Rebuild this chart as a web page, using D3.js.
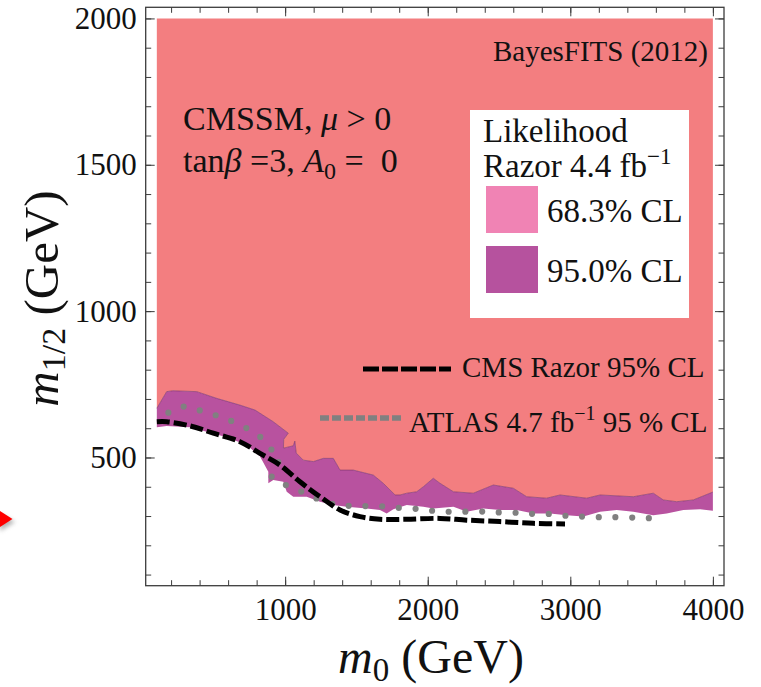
<!DOCTYPE html>
<html>
<head>
<meta charset="utf-8">
<script src="https://cdn.jsdelivr.net/npm/d3@7"></script>
<style>
  body { margin: 0; background: #fff; }
  svg { display: block; }
  text { font-family: "Liberation Serif", "Times New Roman", serif; fill: #111; }
</style>
</head>
<body>
<svg id="chart" width="761" height="687"></svg>
<script>
// CMSSM (m0, m1/2) plane, tan(beta)=3, A0=0: Razor 4.4/fb likelihood regions
// Each boundary is a list of [m0, m1/2] points in GeV.

// lower edge of the 68.3% region (upper edge of the 95.0% band)
const upper68 = [
  [100,668],[169,725],[213,728],[380,725],[520,702],[683,679],[789,662],[917,622],
  [1022,583],[990,562],[988,532],[1057,540],[1068,556],[1078,515],[1127,491],[1198,486],
  [1268,497],[1338,497],[1385,457],[1478,457],[1618,440],[1688,412],[1771,372],[1806,372],
  [1853,378],[1923,383],[1969,400],[2039,429],[2086,412],[2180,383],[2320,378],[2460,406],
  [2600,395],[2694,366],[2834,361],[2928,372],[3115,361],[3209,372],[3442,366],[3582,378],
  [3652,355],[3746,349],[3863,355],[4000,382]
];

// lower edge of the 95.0% region
const lower95 = [
  [100,603],[169,608],[333,603],[450,588],[590,569],[730,543],[824,503],[882,451],
  [882,412],[917,423],[987,417],[1011,383],[1057,366],[1151,366],[1245,349],[1338,338],
  [1432,332],[1572,326],[1665,321],[1712,309],[1759,323],[1853,338],[1969,332],[2039,326],
  [2180,332],[2273,315],[2390,326],[2507,321],[2624,321],[2741,309],[2858,309],[2975,303],
  [3091,298],[3209,315],[3326,321],[3442,315],[3582,303],[3676,309],[3793,321],[3910,323],
  [4000,318]
];

// CMS Razor 95% CL exclusion limit
const cmsRazor = [
  [100,622],[169,622],[333,608],[496,583],[683,554],[824,514],[964,474],[1104,417],
  [1245,366],[1385,321],[1525,298],[1665,289],[1853,289],[2086,292],[2273,286],[2507,281],
  [2741,275],[2963,273]
];

// ATLAS 4.7/fb 95% CL exclusion limit
const atlas = [
  [181,653],[251,671],[333,673],[426,656],[508,645],[590,634],[648,617],[730,600],
  [789,585],[847,560],[906,526],[964,497],[917,463],[906,434],[976,412],[1046,398],
  [1116,383],[1186,368],[1256,352],[1330,342],[1410,336],[1491,334],[1607,334],[1724,332],
  [1841,326],[1969,323],[2074,315],[2191,315],[2308,315],[2432,315],[2535,311],[2659,311],
  [2752,307],[2870,307],[2986,300],[3091,298],[3220,296],[3337,296],[3477,294],[3594,292]
];

// scanned parameter ranges
const m0Range = [100, 4000];
const m12Range = [100, 2000];

// axis ticks
const xMajorTicks = [1000, 2000, 3000, 4000];
const xMinorTicks = d3.range(200, 4001, 200);
const yMajorTicks = [500, 1000, 1500, 2000];
const yMinorTicks = d3.range(100, 2001, 100);

const colors = {
  cl68: "#f37e80",
  cl95: "#b8529f",
  swatch68: "#f083b4",
  swatch95: "#b6529e",
  edge: "#7a3366",
  cms: "#000",
  atlas: "#808080",
  frame: "#3c3c3c"
};

const svg = d3.select("#chart");
const frame = { left: 145.7, right: 724, top: 7.3, bottom: 585.7 };

// plot range padded by 2% on each side
const padX = 0.02 * (m0Range[1] - m0Range[0]);
const padY = 0.02 * (m12Range[1] - m12Range[0]);
const x = d3.scaleLinear().domain([m0Range[0] - padX, m0Range[1] + padX]).range([frame.left, frame.right]);
const y = d3.scaleLinear().domain([m12Range[0] - padY, m12Range[1] + padY]).range([frame.bottom, frame.top]);

const defs = svg.append("defs");
defs.append("clipPath").attr("id", "plotClip")
  .append("rect")
  .attr("x", frame.left).attr("y", frame.top)
  .attr("width", frame.right - frame.left).attr("height", frame.bottom - frame.top);

const plot = svg.append("g").attr("clip-path", "url(#plotClip)");

const poly = d3.line().x(d => x(d[0])).y(d => y(d[1]));
const smooth = d3.line().x(d => x(d[0])).y(d => y(d[1])).curve(d3.curveCatmullRom.alpha(0.5));

// 68.3% region: everything above the band up to the top of the scan
const region68 = upper68.concat([[m0Range[1], m12Range[1]], [m0Range[0], m12Range[1]]]);
plot.append("path").attr("d", poly(region68) + "Z").attr("fill", colors.cl68);

// 95.0% band
const band95 = upper68.concat(lower95.slice().reverse());
plot.append("path").attr("d", poly(band95) + "Z").attr("fill", colors.cl95);
plot.append("path").attr("d", poly(upper68)).attr("fill", "none")
  .attr("stroke", colors.edge).attr("stroke-width", 0.8).attr("stroke-opacity", 0.75);

// ATLAS limit, dotted
plot.append("path").attr("d", smooth(atlas)).attr("fill", "none")
  .attr("stroke", colors.atlas).attr("stroke-width", 6.2)
  .attr("stroke-linecap", "round").attr("stroke-dasharray", "0,16.7");

// CMS Razor limit, dashed
plot.append("path").attr("d", smooth(cmsRazor)).attr("fill", "none")
  .attr("stroke", colors.cms).attr("stroke-width", 5)
  .attr("stroke-dasharray", "13,4");

// ---- axes: inward ticks on all four sides ----
function styleAxis(g) {
  g.select(".domain").remove();
  g.selectAll(".tick line").attr("stroke", colors.frame).attr("stroke-width", 1);
  g.selectAll(".tick text")
    .style("font-family", '"Liberation Serif", "Times New Roman", serif')
    .style("font-size", "31px").attr("fill", "#111");
}
const noLabel = () => "";

svg.append("g").attr("transform", `translate(0,${frame.bottom})`)
  .call(d3.axisBottom(x).tickValues(xMinorTicks).tickSize(-5.5).tickFormat(noLabel)).call(styleAxis);
svg.append("g").attr("transform", `translate(0,${frame.bottom})`)
  .call(d3.axisBottom(x).tickValues(xMajorTicks).tickSize(-9).tickPadding(12.5).tickFormat(d3.format("d")))
  .call(styleAxis);
svg.append("g").attr("transform", `translate(0,${frame.top})`)
  .call(d3.axisTop(x).tickValues(xMinorTicks).tickSize(-5.5).tickFormat(noLabel)).call(styleAxis);
svg.append("g").attr("transform", `translate(0,${frame.top})`)
  .call(d3.axisTop(x).tickValues(xMajorTicks).tickSize(-9).tickFormat(noLabel)).call(styleAxis);

svg.append("g").attr("transform", `translate(${frame.left},0)`)
  .call(d3.axisLeft(y).tickValues(yMinorTicks).tickSize(-5.5).tickFormat(noLabel)).call(styleAxis);
svg.append("g").attr("transform", `translate(${frame.left},0)`)
  .call(d3.axisLeft(y).tickValues(yMajorTicks).tickSize(-9).tickPadding(9).tickFormat(d3.format("d")))
  .call(styleAxis);
svg.append("g").attr("transform", `translate(${frame.right},0)`)
  .call(d3.axisRight(y).tickValues(yMinorTicks).tickSize(-5.5).tickFormat(noLabel)).call(styleAxis);
svg.append("g").attr("transform", `translate(${frame.right},0)`)
  .call(d3.axisRight(y).tickValues(yMajorTicks).tickSize(-9).tickFormat(noLabel)).call(styleAxis);

svg.append("rect")
  .attr("x", frame.left).attr("y", frame.top)
  .attr("width", frame.right - frame.left).attr("height", frame.bottom - frame.top)
  .attr("fill", "none").attr("stroke", colors.frame).attr("stroke-width", 1.3);

// ---- axis titles ----
const xTitle = svg.append("text").attr("x", 431).attr("y", 673)
  .attr("text-anchor", "middle").style("font-size", "48px");
xTitle.append("tspan").style("font-style", "italic").text("m");
xTitle.append("tspan").style("font-size", "33px").attr("dy", 8).text("0");
xTitle.append("tspan").attr("dy", -8).text(" (GeV)");

const yTitle = svg.append("text")
  .attr("transform", `translate(58,${(frame.top + frame.bottom) / 2 + 2}) rotate(-90)`)
  .attr("text-anchor", "middle").style("font-size", "49px");
yTitle.append("tspan").style("font-style", "italic").text("m");
yTitle.append("tspan").style("font-size", "34px").attr("dy", 7).text("1/2");
yTitle.append("tspan").attr("dy", -7).text(" (GeV)");

// ---- annotations ----
svg.append("text").attr("x", 708).attr("y", 61).attr("text-anchor", "end")
  .style("font-size", "29px").text("BayesFITS (2012)");

const line1 = svg.append("text").attr("x", 183).attr("y", 130).style("font-size", "34px");
line1.append("tspan").text("CMSSM, ");
line1.append("tspan").style("font-style", "italic").text("\u03bc");
line1.append("tspan").text(" > 0");

const line2 = svg.append("text").attr("x", 183).attr("y", 172).style("font-size", "34px");
line2.append("tspan").text("tan");
line2.append("tspan").style("font-style", "italic").text("\u03b2");
line2.append("tspan").text(" =3, ");
line2.append("tspan").style("font-style", "italic").text("A");
line2.append("tspan").style("font-size", "24px").attr("dy", 7).text("0");
line2.append("tspan").attr("dy", -7).text(" = \u00a00");

// ---- likelihood legend ----
svg.append("rect").attr("x", 470).attr("y", 110).attr("width", 219).attr("height", 208).attr("fill", "#fff");
svg.append("text").attr("x", 483).attr("y", 142).style("font-size", "33px").text("Likelihood");
const razor = svg.append("text").attr("x", 483).attr("y", 177).style("font-size", "33px");
razor.append("tspan").text("Razor 4.4 fb");
razor.append("tspan").style("font-size", "23px").attr("dy", -13).text("\u22121");

const swatches = [
  { label: "68.3% CL", color: colors.swatch68, y: 186 },
  { label: "95.0% CL", color: colors.swatch95, y: 246 }
];
swatches.forEach(s => {
  svg.append("rect").attr("x", 486).attr("y", s.y).attr("width", 52).attr("height", 47).attr("fill", s.color);
  svg.append("text").attr("x", 547).attr("y", s.y + 36).style("font-size", "33px").text(s.label);
});

// ---- limit legend ----
svg.append("line").attr("x1", 363).attr("x2", 451).attr("y1", 369).attr("y2", 369)
  .attr("stroke", colors.cms).attr("stroke-width", 5).attr("stroke-dasharray", "16,3");
svg.append("text").attr("x", 462).attr("y", 377).style("font-size", "29px").text("CMS Razor 95% CL");

svg.append("line").attr("x1", 320).attr("x2", 404).attr("y1", 418).attr("y2", 418)
  .attr("stroke", colors.atlas).attr("stroke-width", 5.5).attr("stroke-dasharray", "9,3");
const atl = svg.append("text").attr("x", 409).attr("y", 432).style("font-size", "29px");
atl.append("tspan").text("ATLAS 4.7 fb");
atl.append("tspan").style("font-size", "20px").attr("dy", -12).text("\u22121");
atl.append("tspan").attr("dy", 12).text(" 95 % CL");

// ---- pointer arrow at the left edge ----
defs.append("filter").attr("id", "soft").attr("x", "-50%").attr("y", "-50%").attr("width", "200%").attr("height", "200%")
  .append("feGaussianBlur").attr("stdDeviation", 2);
svg.append("polygon").attr("points", "0,514 15,522 0,531")
  .attr("fill", "#777").attr("opacity", 0.55).attr("filter", "url(#soft)");
svg.append("polygon").attr("points", "0,511 12.5,519 0,527").attr("fill", "#ff0000");
</script>
</body>
</html>
